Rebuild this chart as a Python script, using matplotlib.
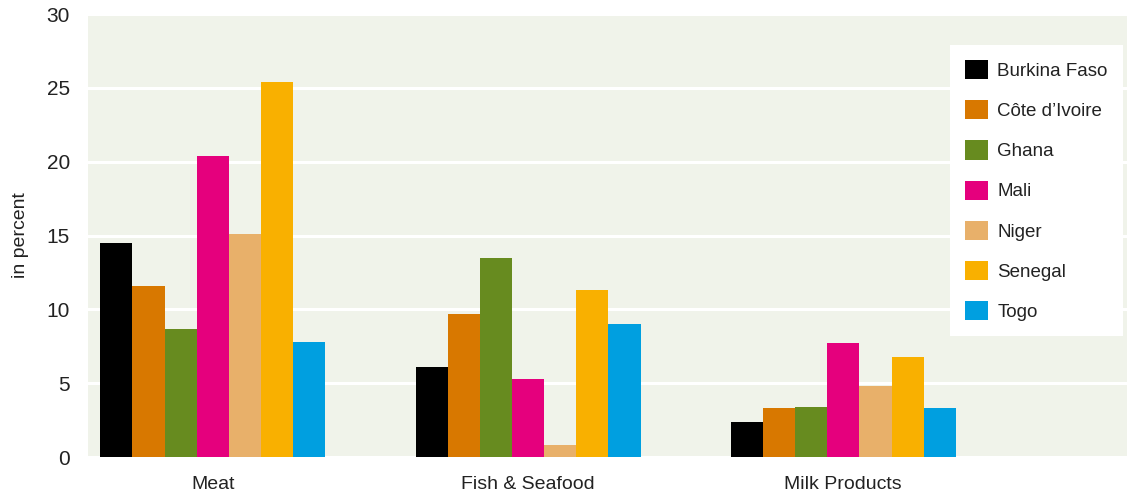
import numpy as np
import matplotlib
matplotlib.use('Agg')
import matplotlib.pyplot as plt

plt.rcParams['font.family'] = ['Liberation Sans Narrow', 'Liberation Sans', 'DejaVu Sans']

categories = ['Meat', 'Fish & Seafood', 'Milk Products']
countries = ['Burkina Faso', 'Côte d\u2019Ivoire', 'Ghana', 'Mali', 'Niger', 'Senegal', 'Togo']
colors = ['#000000', '#d87800', '#678b1f', '#e5007d', '#e8b06a', '#f9b000', '#009fe0']

burkina = [14.5, 6.1, 2.4]
cote_divoire = [11.6, 9.7, 3.3]
ghana = [8.7, 13.5, 3.4]
mali = [20.4, 5.3, 7.7]
niger = [15.1, 0.8, 4.8]
senegal = [25.4, 11.3, 6.8]
togo = [7.8, 9.0, 3.3]
series = [burkina, cote_divoire, ghana, mali, niger, senegal, togo]

fig = plt.figure(figsize=(11.29, 4.94), dpi=100)
ax = fig.add_axes([88 / 1129, 1 - 457 / 494, (1127 - 88) / 1129, (457 - 14) / 494])
ax.set_facecolor('#f0f3ea')

x = np.arange(len(categories))
width = 0.102
for i, (name, vals, c) in enumerate(zip(countries, series, colors)):
    offset = (i - 3) * width
    ax.bar(x + offset, vals, width, color=c, label=name, linewidth=0, zorder=3)

ax.set_ylim(0, 30)
ax.set_xlim(-0.396, 2.9)
ax.set_yticks(range(0, 31, 5))
ax.yaxis.grid(True, color='white', linewidth=2.2, zorder=1)
ax.set_axisbelow(True)
for s in ax.spines.values():
    s.set_visible(False)
ax.tick_params(axis='y', length=0, labelsize=15, colors='#222222', pad=13)
ax.tick_params(axis='x', length=0, labelsize=14, colors='#222222', pad=14)
ax.set_xticks(x)
ax.set_xticklabels(categories)
ax.set_ylabel('in percent', fontsize=14, color='#222222', labelpad=13)

leg = ax.legend(loc='upper right', bbox_to_anchor=(1122.7 / 1129, 1 - 45 / 494),
                bbox_transform=fig.transFigure, borderaxespad=0, fontsize=13.5,
                handlelength=1.2, handleheight=1.2, labelspacing=1.08,
                handletextpad=0.5, borderpad=0.8, fancybox=False, framealpha=1)
leg.get_frame().set_edgecolor('white')
leg.get_frame().set_linewidth(0)
for t in leg.get_texts():
    t.set_color('#222222')

fig.savefig('out.png', dpi=100)
